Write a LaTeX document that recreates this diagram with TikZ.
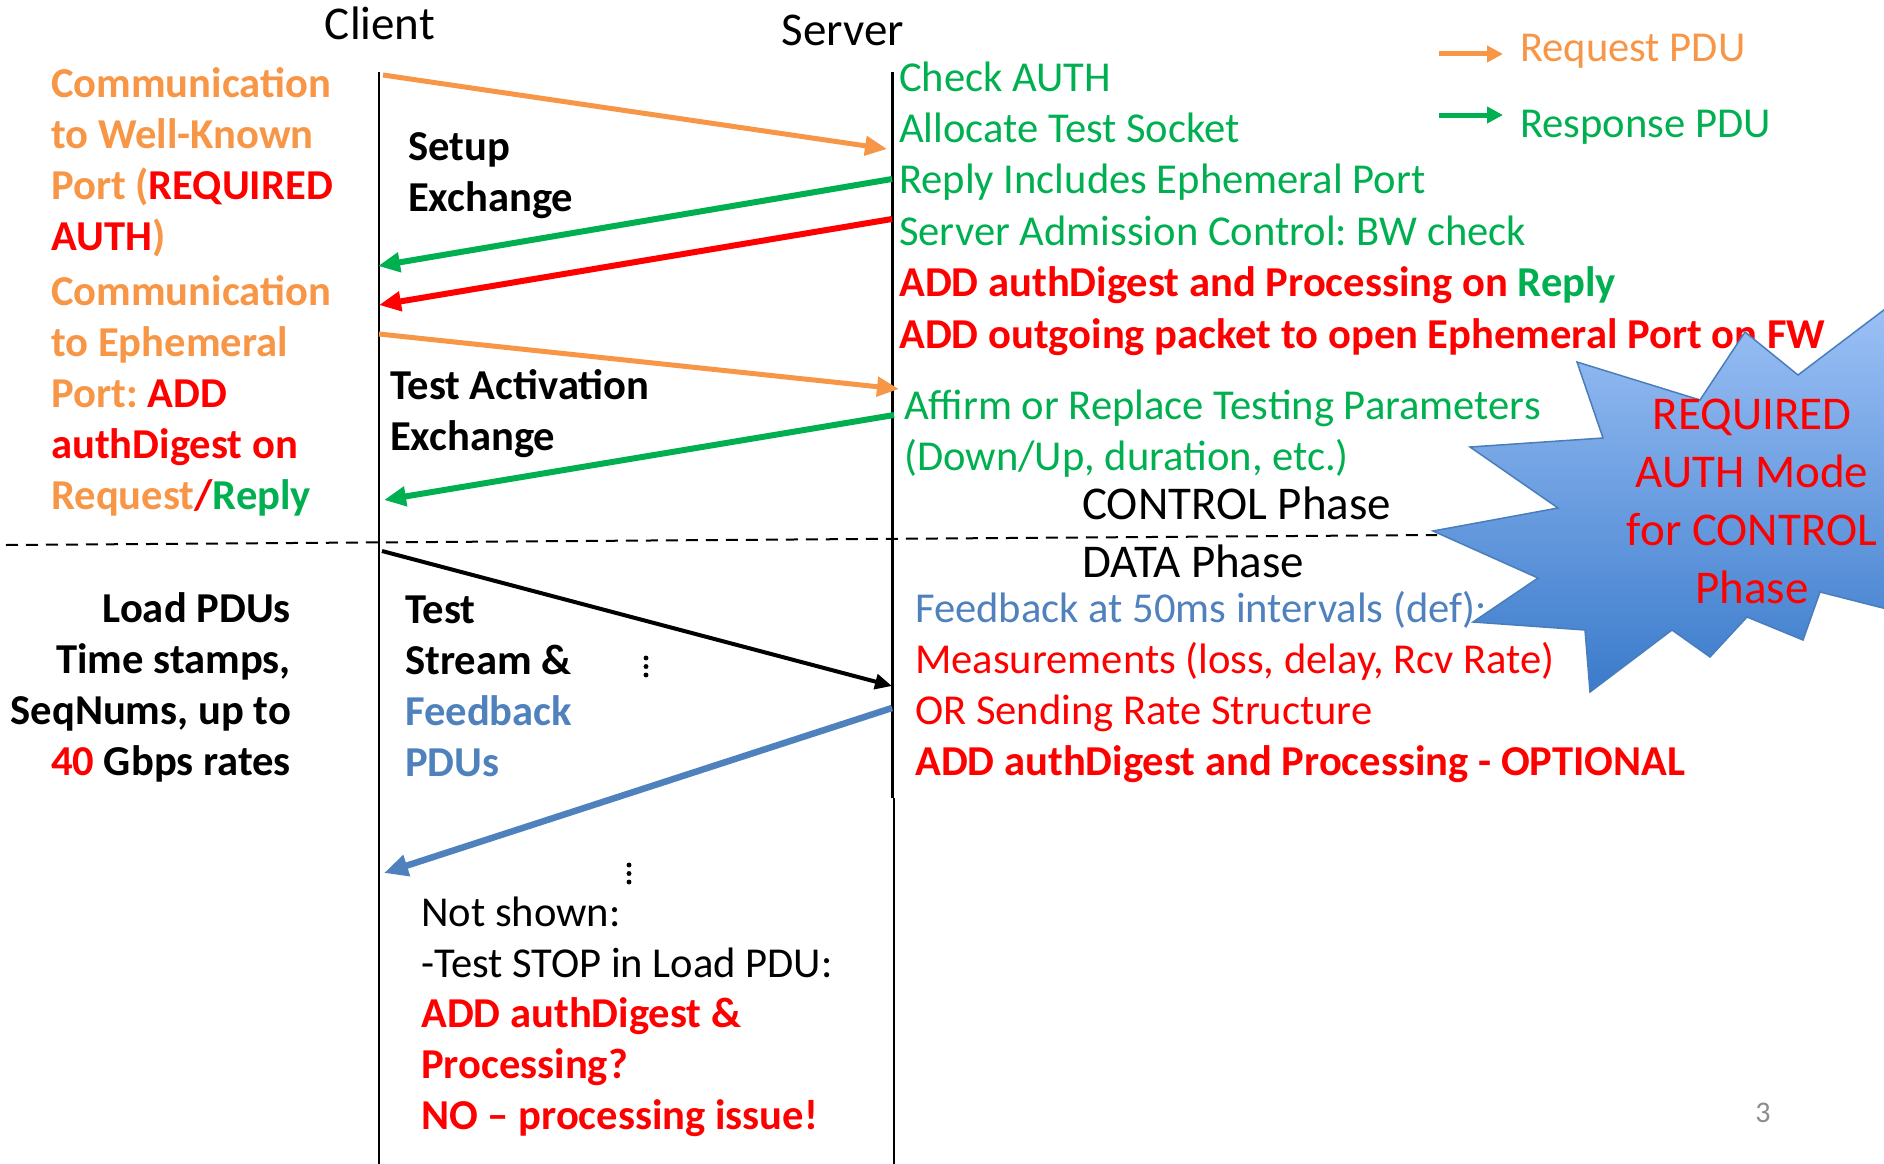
\documentclass[tikz,border=0pt]{standalone}
\usepackage{fontspec}
\setmainfont{Carlito}
\usetikzlibrary{arrows.meta}
\frenchspacing

\definecolor{reqorange}{HTML}{F79646}
\definecolor{respgreen}{HTML}{00B050}
\definecolor{authred}{HTML}{FF0000}
\definecolor{fbblue}{HTML}{4F81BD}
\definecolor{burstlight}{HTML}{A3C6F9}
\definecolor{burstdark}{HTML}{3B7BCB}
\definecolor{burstedge}{HTML}{4A7EBB}
\definecolor{pagegray}{HTML}{8C8C8C}

\begin{document}
\begin{tikzpicture}[x=1pt,y=-1pt,
    txt/.style={inner sep=0pt,anchor=base west,align=left,font=\fontsize{42.6}{50.8}\selectfont},
    btxt/.style={txt,font=\fontsize{42.6}{50.8}\selectfont\bfseries},
    head/.style={inner sep=0pt,anchor=base,font=\fontsize{47}{57.8}\selectfont},
    pdu/.style={line width=6pt,-{Triangle[length=22pt,width=19pt]}},
    key/.style={line width=5pt,-{Triangle[length=16pt,width=16pt]}}]
    \useasboundingbox (0,0) rectangle (1884,1164);

    % lifelines
    \node[head] (client) at (380,39.5) {Client};
    \node[head] (server) at (843,46) {Server};
    \coordinate (clienttop) at (379,72);
    \coordinate (clientbot) at (379,1164);
    \coordinate (servertop) at (892.5,72);
    \coordinate (servermid) at (892.5,798);
    \coordinate (serverjog) at (893.7,798);
    \coordinate (serverbot) at (893.7,1164);
    \draw[line width=2.6pt] (clienttop) -- (clientbot);
    \draw[line width=2.4pt] (servertop) -- (servermid);
    \draw[line width=2.4pt] (serverjog) -- (serverbot);

    % phase separator
    \coordinate (dashl) at (6,545);
    \coordinate (dashr) at (1437,535);
    \draw[line width=2pt,dash pattern=on 12pt off 8pt] (dashl) -- (dashr);
    \node[head,anchor=base west] (control) at (1082,519) {CONTROL Phase};
    \node[head,anchor=base west] (data) at (1082,577) {DATA Phase};

    % left notes (multi-line nodes sit on their last baseline)
    \node[btxt,text=reqorange] (wellknown) at (51,250) {Communication\\to Well-Known\\Port (\textcolor{authred}{REQUIRED}\\\textcolor{authred}{AUTH})};
    \node[btxt,text=reqorange] (ephemeral) at (51,509) {Communication\\to Ephemeral\\Port: \textcolor{authred}{ADD}\\\textcolor{authred}{authDigest on}\\Request\textcolor{authred}{/}\textcolor{respgreen}{Reply}};
    \node[btxt,anchor=base east,align=right] (loadpdu) at (291,775) {Load PDUs\\Time stamps,\\SeqNums, up to\\\textcolor{authred}{40} Gbps rates};

    % exchange labels
    \node[btxt] (setup) at (408,211) {Setup\\Exchange};
    \node[btxt] (activation) at (390,450) {Test Activation\\Exchange};
    \node[btxt] (stream) at (405,776) {Test\\Stream \&\\\textcolor{fbblue}{Feedback}\\\textcolor{fbblue}{PDUs}};
    \node[txt] (notshown) at (421,1129.5) {Not shown:\\-Test STOP in Load PDU:\\\textbf{\textcolor{authred}{ADD authDigest \&}}\\\textbf{\textcolor{authred}{Processing?}}\\\textbf{\textcolor{authred}{NO – processing issue!}}};

    % server notes
    \node[txt,text=respgreen,font=\fontsize{42.6}{51.4}\selectfont] (srvsetup) at (899,348) {Check AUTH\\Allocate Test Socket\\Reply Includes Ephemeral Port\\Server Admission Control: BW check\\\textbf{\textcolor{authred}{ADD authDigest and Processing on} Reply}\\\textbf{\textcolor{authred}{ADD outgoing packet to open Ephemeral Port on FW}}};
    \node[txt,text=respgreen] (srvaffirm) at (904,470) {Affirm or Replace Testing Parameters\\(Down/Up, duration, etc.)};
    \node[txt,text=authred] (srvfeedback) at (915,775) {\textcolor{fbblue}{Feedback at 50ms intervals (def):}\\Measurements (loss, delay, Rcv Rate)\\OR Sending Rate Structure\\\textbf{ADD authDigest and Processing - OPTIONAL}};

    % legend
    \coordinate (reqa) at (1439,54);
    \coordinate (reqb) at (1503,54);
    \coordinate (respa) at (1439,115);
    \coordinate (respb) at (1503,115);
    \draw[key,reqorange] (reqa) -- (reqb);
    \draw[key,respgreen] (respa) -- (respb);
    \node[txt,text=reqorange] (reqkey) at (1520,62) {Request PDU};
    \node[txt,text=respgreen] (respkey) at (1520,137.5) {Response PDU};

    % message arrows
    \coordinate (c1) at (383,75);   \coordinate (s1) at (887,149);
    \coordinate (s2) at (892,179);  \coordinate (c2) at (378,266);
    \coordinate (s3) at (892,219);  \coordinate (c3) at (379,305);
    \coordinate (c4) at (379,334);  \coordinate (s4) at (899,389);
    \coordinate (s5) at (894,415);  \coordinate (c5) at (384,500);
    \coordinate (c6) at (382,551);  \coordinate (s6) at (892,686);
    \coordinate (s7) at (892,708);  \coordinate (c7) at (384,873);
    \draw[pdu,reqorange,line width=5pt] (c1) -- (s1);
    \draw[pdu,respgreen] (s2) -- (c2);
    \draw[pdu,authred] (s3) -- (c3);
    \draw[pdu,reqorange,line width=5pt] (c4) -- (s4);
    \draw[pdu,respgreen] (s5) -- (c5);
    \draw[line width=4pt,-{Triangle[length=17pt,width=15pt]}] (c6) -- (s6);
    \draw[line width=6.5pt,fbblue,-{Triangle[length=24pt,width=21pt]}] (s7) -- (c7);

    % more PDUs
    \foreach \y in {658,666.5,675} \filldraw (646,\y) circle (2.2pt);
    \foreach \y in {865,873.5,882} \filldraw (629,\y) circle (2.2pt);

    % burst
    \shadedraw[top color=burstlight,bottom color=burstdark,draw=burstedge,line width=1.5pt]
        (1577,362) -- (1603,438) -- (1470,447) -- (1558,508) -- (1433,531) -- (1538,578)
        -- (1473,622) -- (1585,630) -- (1590,692) -- (1672,630) -- (1710,657) -- (1747,617)
        -- (1803,640) -- (1820,592) -- (1930,620) -- (1930,275) -- (1798,375) -- (1745,332)
        -- (1700,400) -- cycle;
    \node[head,text=authred,align=center] (burst) at (1752,603) {REQUIRED\\AUTH Mode\\for CONTROL\\Phase};

    \node[inner sep=0pt,anchor=base,font=\fontsize{30}{36}\selectfont,text=pagegray] (pagenum) at (1763,1122) {3};
\end{tikzpicture}
\end{document}
